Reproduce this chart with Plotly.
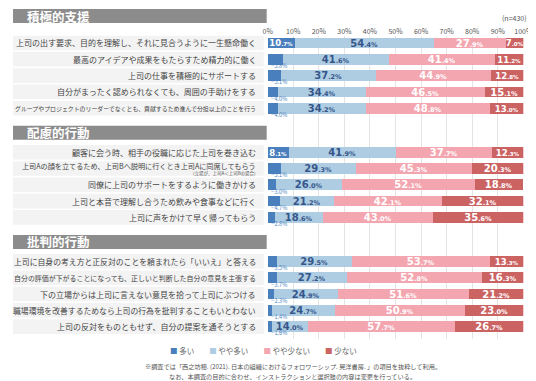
import plotly.graph_objects as go

# ---------------- data ----------------
sections = ["積極的支援", "配慮的行動", "批判的行動"]
labels = [
    ["上司の出す要求、目的を理解し、それに見合うように一生懸命働く",
     "最高のアイデアや成果をもたらすため精力的に働く",
     "上司の仕事を積極的にサポートする",
     "自分がまったく認められなくても、周囲の手助けをする",
     "グループやプロジェクトのリーダーでなくとも、貢献するため進んで分担以上のことを行う"],
    ["顧客に会う時、相手の役職に応じた上司を巻き込む",
     "上司Aの顔を立てるため、上司Bへ説明に行くとき上司Aに同席してもらう",
     "同僚に上司のサポートをするように働きかける",
     "上司と本音で理解し合うため飲みや食事などに行く",
     "上司に声をかけて早く帰ってもらう"],
    ["上司に自身の考え方と正反対のことを頼まれたら「いいえ」と答える",
     "自分の評価が下がることになっても、正しいと判断した自分の意見を主張する",
     "下の立場からは上司に言えない意見を拾って上司にぶつける",
     "職場環境を改善するためなら上司の行為を批判することもいとわない",
     "上司の反対をものともせず、自分の提案を通そうとする"],
]
sub_notes = {(1, 1): "(立場が、上司A＜上司Bの場合)"}

series_names = ["多い", "やや多い", "やや少ない", "少ない"]
many = [10.7, 5.8, 5.1, 4.0, 4.0, 8.1, 5.1, 3.0, 4.7, 2.8, 3.5, 3.7, 2.3, 1.4, 1.6]
some_many = [54.4, 41.6, 37.2, 34.4, 34.2, 41.9, 29.3, 26.0, 21.2, 18.6, 29.5, 27.2, 24.9, 24.7, 14.0]
some_few = [27.9, 41.4, 44.9, 46.5, 48.8, 37.7, 45.3, 52.1, 42.1, 43.0, 53.7, 52.8, 51.6, 50.9, 57.7]
few = [7.0, 11.2, 12.8, 15.1, 13.0, 12.3, 20.3, 18.8, 32.1, 35.6, 13.3, 16.3, 21.2, 23.0, 26.7]
tick_vals = [0, 10, 20, 30, 40, 50, 60, 70, 80, 90, 100]
tick_text = ["0%", "10%", "20%", "30%", "40%", "50%", "60%", "70%", "80%", "90%", "100%"]
n_text = "(n=430)"
notes = ["※調査では「西之坊穂. (2021). 日本の組織におけるフォロワーシップ. 晃洋書房. 」の項目を抜粋して利用。",
         "なお、本調査の目的に合わせ、インストラクションと選択肢の内容は変更を行っている。"]

# ---------------- style / layout ----------------
W, H = 536, 381
colors = ["#4a7fbd", "#aecde3", "#f3a6b0", "#cb6363"]
text_colors = ["#ffffff", "#36568a", "#ffffff", "#ffffff"]
FONT = "Noto Sans CJK JP"
ROW_PX, FIRST_PX, SEC_STEP = 16.3, 35.0, 6.7
X0_PX, X1_PX = 262, 525
GRID_TOP, GRID_BOT = 28, 331
LABEL_RIGHT_PX = 252
SMALL = 6.0
NARROW = 13.5


def pyp(px):
    return 1 - px / H


def row_px(y):
    return FIRST_PX + y * ROW_PX


ys, flat_labels, keys = [], [], []
for s, labs in enumerate(labels):
    for i, lab in enumerate(labs):
        ys.append(s * SEC_STEP + i)
        flat_labels.append(lab)
        keys.append((s, i))


def fmt(v, narrow):
    a, b = f"{v:.1f}".split(".")
    small = 5.5 if narrow else 6.5
    return f"{a}<span style='font-size:{small}px'>.{b}%</span>"


fig = go.Figure()
for name, vals, col, tcol in zip(series_names, [many, some_many, some_few, few], colors, text_colors):
    fig.add_trace(go.Bar(
        x=vals, y=ys, orientation="h", name=name,
        marker=dict(color=col, line=dict(width=0)),
        width=0.66,
        text=[fmt(v, v < NARROW) if v >= SMALL else "" for v in vals],
        textposition="inside", insidetextanchor="middle", constraintext="none",
        textfont=dict(family="DejaVu Sans", color=tcol, weight="bold",
                      size=[8.5 if v < NARROW else 10 for v in vals]),
        showlegend=False, hoverinfo="skip",
    ))

shapes, ann = [], []

# row bands + labels
for y, lab, key in zip(ys, flat_labels, keys):
    c = row_px(y)
    shapes.append(dict(type="rect", xref="paper", yref="paper", x0=0, x1=258 / W,
                       y0=pyp(c + 7.3), y1=pyp(c - 7.3), fillcolor="#f3f3f3",
                       line=dict(width=0), layer="below"))
    size = min(8.0, 243.0 / len(lab))
    shift = 3 if key in sub_notes else 0
    ann.append(dict(x=LABEL_RIGHT_PX / W, xref="paper", y=y, yref="y", xanchor="right",
                    yanchor="middle", text=lab, showarrow=False, yshift=shift,
                    font=dict(family=FONT, size=size, color="#444")))
    if key in sub_notes:
        ann.append(dict(x=LABEL_RIGHT_PX / W, xref="paper", y=y, yref="y", xanchor="right",
                        yanchor="middle", text=sub_notes[key], showarrow=False, yshift=-4.5,
                        font=dict(family=FONT, size=4.5, color="#555")))

# small value notes below bars
for y, v in zip(ys, many):
    if v < SMALL:
        ann.append(dict(x=0, xref="x", y=y + 0.42, yref="y", xanchor="left", yanchor="middle",
                        text=f"└{v:.1f}%", showarrow=False, xshift=-1,
                        font=dict(family=FONT, size=5.5, color="#4a7fbd")))

# section headers
for s, sec in enumerate(sections):
    c = 8 if s == 0 else row_px(s * SEC_STEP) - 19.5
    shapes.append(dict(type="rect", xref="paper", yref="paper", x0=0, x1=261 / W,
                       y0=pyp(c + 7), y1=pyp(c - 7), fillcolor="#8c8c8c",
                       line=dict(width=0), layer="below"))
    ann.append(dict(x=12 / W, xref="paper", y=pyp(c), yref="paper", xanchor="left",
                    yanchor="middle", text=sec, showarrow=False,
                    font=dict(family=FONT, size=12.5, color="#ffffff", weight="bold")))

# n=
ann.append(dict(x=531 / W, xref="paper", y=pyp(10), yref="paper", xanchor="right",
                yanchor="middle", text=n_text, showarrow=False,
                font=dict(family=FONT, size=7, color="#555")))

# legend
legend_txt = "\u3000\u3000".join(
    f"<span style='color:{c}'>■</span> {n}" for n, c in zip(series_names, colors))
ann.append(dict(x=258 / W, xref="paper", y=pyp(342), yref="paper", xanchor="center",
                yanchor="middle", text=legend_txt, showarrow=False,
                font=dict(family=FONT, size=7.5, color="#666")))

# footnotes
for k, (t, p) in enumerate(zip(notes, [358, 368])):
    ann.append(dict(x=288 / W, xref="paper", y=pyp(p), yref="paper", xanchor="center",
                    yanchor="middle", text=t, showarrow=False,
                    font=dict(family=FONT, size=6.2, color="#555")))

fig.update_layout(
    width=W, height=H, margin=dict(l=0, r=0, t=0, b=0),
    paper_bgcolor="white", plot_bgcolor="white",
    barmode="stack", bargap=0,
    shapes=shapes, annotations=ann,
    font=dict(family=FONT),
    xaxis=dict(domain=[X0_PX / W, X1_PX / W], range=[0, 100], side="top",
               tickvals=tick_vals, ticktext=tick_text, showgrid=True,
               gridcolor="#e4e4e4", gridwidth=1, zeroline=False, showline=False,
               ticks="", tickfont=dict(family=FONT, size=7, color="#555"),
               fixedrange=True),
    yaxis=dict(domain=[1 - GRID_BOT / H, 1 - GRID_TOP / H],
               range=[(GRID_BOT - FIRST_PX) / ROW_PX, (GRID_TOP - FIRST_PX) / ROW_PX],
               showgrid=False, zeroline=False, showticklabels=False, visible=False,
               fixedrange=True),
)

fig.write_html("out.html")
